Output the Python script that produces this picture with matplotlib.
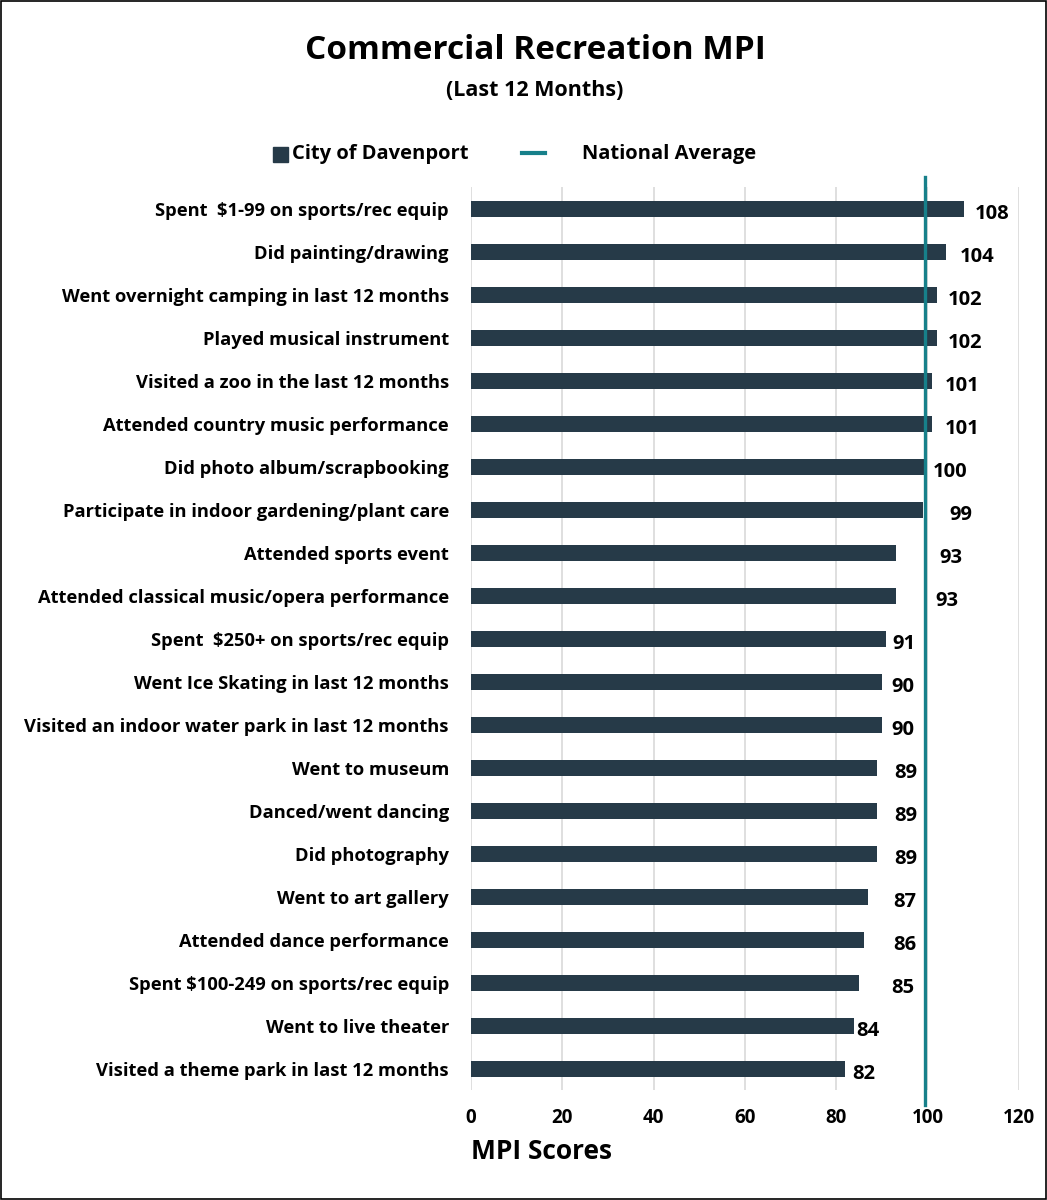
import matplotlib.pyplot as plt
import numpy as np

plt.rcParams["font.family"] = ["Open Sans", "DejaVu Sans"]

activities = [
    "Spent  $1-99 on sports/rec equip",
    "Did painting/drawing",
    "Went overnight camping in last 12 months",
    "Played musical instrument",
    "Visited a zoo in the last 12 months",
    "Attended country music performance",
    "Did photo album/scrapbooking",
    "Participate in indoor gardening/plant care",
    "Attended sports event",
    "Attended classical music/opera performance",
    "Spent  $250+ on sports/rec equip",
    "Went Ice Skating in last 12 months",
    "Visited an indoor water park in last 12 months",
    "Went to museum",
    "Danced/went dancing",
    "Did photography",
    "Went to art gallery",
    "Attended dance performance",
    "Spent $100-249 on sports/rec equip",
    "Went to live theater",
    "Visited a theme park in last 12 months",
]
mpi = [108, 104, 102, 102, 101, 101, 100, 99, 93, 93, 91, 90, 90, 89, 89, 89, 87, 86, 85, 84, 82]
national_avg = 99.4

# where the value labels sit (left edge, in MPI units) - hand-moved in the original
label_x = [110.3, 107.1, 104.4, 104.4, 103.8, 103.8, 101.2, 104.9, 102.7, 101.8,
           92.4, 92.0, 92.0, 92.8, 92.8, 92.8, 92.4, 92.4, 92.0, 84.5, 83.6]

bar_color = "#263a48"
line_color = "#17808a"

fig = plt.figure(figsize=(10.47, 12), dpi=100)
ax = fig.add_axes([0.45, 0.0913, 0.523, 0.7525])

y = np.arange(len(activities))
ax.barh(y, mpi, height=0.37, color=bar_color, zorder=3)
ax.set_ylim(len(activities) - 0.5, -0.5)
ax.set_xlim(0, 120)
ax.set_xticks(np.arange(0, 121, 20))
ax.set_yticks(y)
ax.set_yticklabels(activities, fontsize=13.2, fontweight="bold")
ax.tick_params(axis="x", labelsize=13.5, length=0, pad=13)
ax.tick_params(axis="y", length=0, pad=16)
for lbl in ax.get_xticklabels():
    lbl.set_fontweight("bold")
ax.grid(axis="x", color="#d9d9d9", linewidth=1.2, zorder=0)
for s in ax.spines.values():
    s.set_visible(False)

ax.plot([national_avg, national_avg], [-0.75, len(activities) - 0.15],
        color=line_color, linewidth=2.4, zorder=4, clip_on=False)

for i, (v, lx) in enumerate(zip(mpi, label_x)):
    ax.text(lx, i + 0.05, str(v), va="center_baseline", ha="left", fontsize=14.5,
            fontweight="bold", color="black", zorder=5)

ax.text(0, -0.068, "MPI Scores", transform=ax.get_xaxis_transform(), fontsize=19,
        fontweight="bold", ha="left", va="center")

fig.text(0.511, 0.958, "Commercial Recreation MPI", ha="center", va="center",
         fontsize=24, fontweight="bold")
fig.text(0.511, 0.925, "(Last 12 Months)", ha="center", va="center",
         fontsize=15.5, fontweight="bold")

# legend
lax = fig.add_axes([0, 0.845, 1, 0.05])
lax.set_xlim(0, 1047)
lax.set_ylim(0, 1)
lax.axis("off")
lax.add_patch(plt.Rectangle((273, 0.4), 15, 0.25, color=bar_color))
lax.text(292, 0.53, "City of Davenport", fontsize=14.5, fontweight="bold", va="center")
lax.plot([522, 545], [0.55, 0.55], color=line_color, linewidth=3)
lax.text(582, 0.53, "National Average", fontsize=14.5, fontweight="bold", va="center")

fig.patches.append(plt.Rectangle((0.001, 0.001), 0.998, 0.998, transform=fig.transFigure,
                                 fill=False, edgecolor="black", linewidth=1.2))

fig.savefig("out.png", dpi=100)
